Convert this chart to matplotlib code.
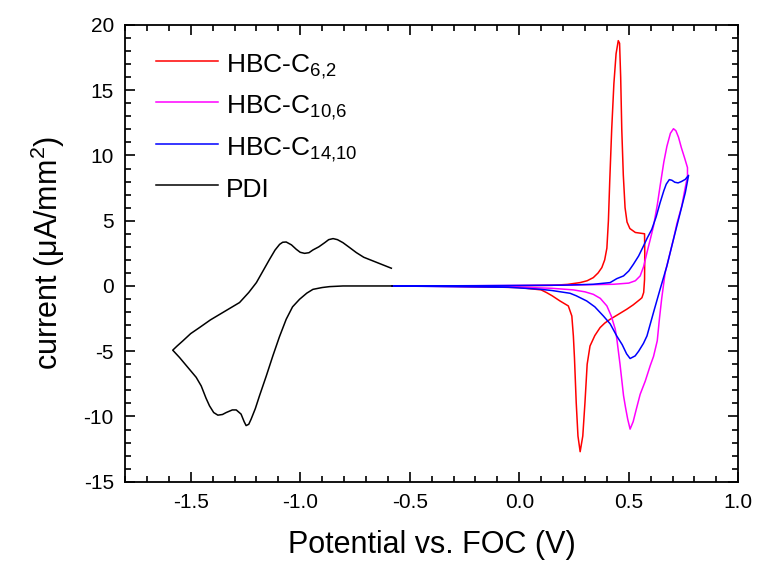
import numpy as np
import matplotlib
matplotlib.use('Agg')
import matplotlib.pyplot as plt
from matplotlib.ticker import MultipleLocator, FormatStrFormatter

plt.rcParams['font.family'] = ['Liberation Sans', 'DejaVu Sans']
plt.rcParams['mathtext.default'] = 'regular'
plt.rcParams['axes.unicode_minus'] = False

# HBC-C6,2 (red) - potential (V), current (uA/mm2)
hbc62_v = [-0.58, -0.3, 0.0, 0.15, 0.22, 0.278, 0.31, 0.338, 0.36, 0.377, 0.39, 0.40, 0.407, 0.413,
           0.422, 0.432, 0.442, 0.452, 0.458, 0.463, 0.468, 0.475, 0.483, 0.492, 0.505, 0.53, 0.572,
           0.573, 0.572, 0.568, 0.56, 0.552, 0.52, 0.491, 0.45, 0.415, 0.39, 0.369, 0.345, 0.323,
           0.31, 0.30, 0.29, 0.278, 0.268, 0.26, 0.252, 0.247, 0.24, 0.224, 0.186, 0.15, 0.125,
           0.10, 0.0, -0.3, -0.58]
hbc62_i = [0.0, 0.0, 0.02, 0.05, 0.12, 0.26, 0.4, 0.64, 1.0, 1.41, 2.0, 2.9, 5.0, 8.0,
           12.0, 15.5, 17.8, 18.8, 18.6, 16.0, 12.0, 8.5, 6.0, 4.9, 4.4, 4.1, 4.0,
           2.5, 0.5, -0.5, -0.9, -1.02, -1.45, -1.78, -2.2, -2.55, -2.85, -3.19, -3.8, -4.6,
           -6.0, -8.93, -11.5, -12.7, -11.5, -8.93, -5.5, -3.83, -2.3, -1.53, -1.15, -0.75, -0.51,
           -0.3, -0.12, -0.03, 0.0]

# HBC-C10,6 (magenta)
hbc106_v = [-0.58, -0.2, 0.2, 0.43, 0.5, 0.53, 0.552, 0.568, 0.583, 0.6, 0.613, 0.63, 0.643, 0.66,
            0.674, 0.69, 0.704, 0.715, 0.727, 0.74, 0.755, 0.768, 0.768, 0.755, 0.742, 0.72, 0.704,
            0.685, 0.666, 0.65, 0.64, 0.63, 0.613, 0.598, 0.575, 0.552, 0.535, 0.52, 0.506, 0.495,
            0.485, 0.476, 0.46, 0.445, 0.438, 0.42, 0.40, 0.37, 0.338, 0.3, 0.247, 0.15, -0.03, -0.58]
hbc106_i = [0.0, 0.02, 0.06, 0.13, 0.22, 0.4, 0.77, 1.5, 2.56, 3.7, 4.6, 6.2, 7.66, 9.5,
            10.7, 11.7, 12.05, 11.9, 11.4, 10.6, 9.8, 9.07, 8.4, 7.3, 6.13, 4.8, 3.58,
            2.3, 1.02, -1.0, -2.5, -4.2, -5.4, -6.1, -7.3, -8.3, -9.4, -10.4, -10.97, -10.2,
            -9.3, -8.4, -6.0, -4.0, -3.3, -2.3, -1.53, -0.95, -0.64, -0.45, -0.3, -0.18, -0.08, 0.0]

# HBC-C14,10 (blue)
hbc1410_v = [-0.58, -0.2, 0.2, 0.338, 0.415, 0.445, 0.476, 0.5, 0.521, 0.545, 0.567, 0.585, 0.605,
             0.625, 0.643, 0.66, 0.671, 0.685, 0.697, 0.71, 0.725, 0.74, 0.758, 0.773, 0.758, 0.735,
             0.704, 0.674, 0.643, 0.615, 0.583, 0.567, 0.545, 0.529, 0.506, 0.49, 0.47, 0.445, 0.415,
             0.384, 0.345, 0.308, 0.26, 0.232, 0.15, 0.095, -0.05, -0.58]
hbc1410_i = [0.0, 0.02, 0.06, 0.13, 0.26, 0.56, 0.77, 1.15, 1.66, 2.3, 3.06, 3.7, 4.34,
             5.3, 6.38, 7.3, 7.8, 8.15, 8.1, 7.95, 7.9, 8.0, 8.17, 8.48, 7.15, 5.62,
             3.58, 1.53, -0.25, -1.9, -3.83, -4.4, -5.0, -5.36, -5.56, -5.2, -4.5, -3.83, -2.9,
             -2.3, -1.6, -1.15, -0.75, -0.56, -0.35, -0.25, -0.1, 0.0]

# PDI (black)
pdi_v = [-0.584, -0.62, -0.668, -0.71, -0.744, -0.775, -0.805, -0.83, -0.85, -0.87, -0.888, -0.915,
         -0.942, -0.96, -0.98, -1.0, -1.018, -1.04, -1.064, -1.08, -1.094, -1.115, -1.14, -1.17,
         -1.20, -1.235, -1.277, -1.354, -1.41, -1.46, -1.5, -1.536, -1.562, -1.582, -1.551, -1.506,
         -1.475, -1.452, -1.43, -1.414, -1.395, -1.376, -1.355, -1.338, -1.31, -1.292, -1.27, -1.256,
         -1.247, -1.235, -1.224, -1.205, -1.186, -1.155, -1.125, -1.095, -1.064, -1.035, -1.003,
         -0.97, -0.942, -0.9, -0.866, -0.805, -0.58]
pdi_i = [1.36, 1.6, 1.92, 2.2, 2.56, 2.95, 3.32, 3.55, 3.63, 3.55, 3.32, 3.0,
         2.76, 2.55, 2.5, 2.58, 2.81, 3.15, 3.37, 3.35, 3.19, 2.75, 2.04, 1.15,
         0.26, -0.5, -1.27, -2.04, -2.6, -3.19, -3.65, -4.21, -4.6, -4.92, -5.48, -6.38,
         -7.0, -7.66, -8.6, -9.19, -9.7, -9.9, -9.85, -9.7, -9.5, -9.5, -9.82, -10.4,
         -10.7, -10.6, -10.2, -9.4, -8.42, -6.9, -5.36, -3.9, -2.55, -1.6, -1.02,
         -0.55, -0.26, -0.12, -0.05, 0.0, 0.0]

labels = ['HBC-C$_{6{,}2}$', 'HBC-C$_{10{,}6}$', 'HBC-C$_{14{,}10}$', 'PDI']

fig = plt.figure(figsize=(7.57, 5.63), dpi=100)
ax = fig.add_axes([0.1651, 0.1444, 0.8102, 0.8112])

ax.plot(hbc62_v, hbc62_i, color='#ff0000', lw=1.1, label=labels[0])
ax.plot(hbc106_v, hbc106_i, color='#ff00ff', lw=1.1, label=labels[1])
ax.plot(hbc1410_v, hbc1410_i, color='#0000ff', lw=1.1, label=labels[2])
ax.plot(pdi_v, pdi_i, color='black', lw=1.1, label=labels[3])

ax.set_xlim(-1.8, 1.0)
ax.set_ylim(-15, 20)
ax.xaxis.set_major_locator(MultipleLocator(0.5))
ax.xaxis.set_minor_locator(MultipleLocator(0.1))
ax.yaxis.set_major_locator(MultipleLocator(5))
ax.yaxis.set_minor_locator(MultipleLocator(1))
ax.xaxis.set_major_formatter(FormatStrFormatter('%.1f'))
ax.tick_params(which='both', direction='in', top=True, right=True, labelsize=15, width=1.2)
ax.tick_params(which='major', length=7, pad=8)
ax.tick_params(which='minor', length=4)
for s in ax.spines.values():
    s.set_linewidth(1.3)

ax.set_xlabel('Potential vs. FOC (V)', fontsize=22, labelpad=13)
ax.set_ylabel('current ($\\mu$A/mm$^2$)', fontsize=22, labelpad=12)

ax.legend(loc='upper left', bbox_to_anchor=(0.05, 0.947), frameon=False, fontsize=19,
          handlelength=2.35, handleheight=1.25, handletextpad=0.3, labelspacing=0.38,
          borderaxespad=0, borderpad=0)

fig.savefig('out.png', dpi=100)
